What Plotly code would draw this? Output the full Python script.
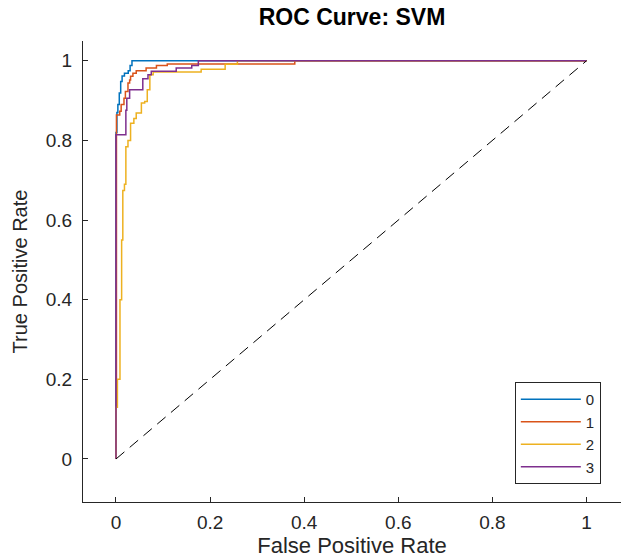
import plotly.graph_objects as go

# ROC step-curve vertices (FPR, TPR); drawn with horizontal-then-vertical steps
class_names = ["0", "1", "2", "3"]

fpr_0 = [0, 0, 0.002, 0.004, 0.007, 0.010, 0.013, 0.018, 0.026, 0.030, 0.034, 1]
tpr_0 = [0, 0.82, 0.87, 0.89, 0.919, 0.948, 0.962, 0.969, 0.975, 0.988, 1.0, 1.0]

fpr_1 = [0, 0, 0.001, 0.001, 0.008, 0.011, 0.017, 0.020, 0.0255, 0.029, 0.031, 0.036,
         0.043, 0.064, 0.086, 0.109, 0.38, 1]
tpr_1 = [0, 0.13, 0.13, 0.864, 0.873, 0.89, 0.906, 0.923, 0.944, 0.952, 0.961, 0.969,
         0.975, 0.982, 0.988, 0.992, 1.0, 1.0]

fpr_2 = [0, 0, 0.003, 0.0085, 0.012, 0.0145, 0.018, 0.021, 0.0255, 0.031, 0.038, 0.043,
         0.054, 0.061, 0.0665, 0.072, 0.079, 0.181, 0.232, 0.258, 1]
tpr_2 = [0, 0.13, 0.20, 0.40, 0.55, 0.674, 0.69, 0.784, 0.80, 0.843, 0.855, 0.869,
         0.894, 0.898, 0.927, 0.965, 0.972, 0.979, 0.991, 1.0, 1.0]

fpr_3 = [0, 0, 0.021, 0.023, 0.029, 0.057, 0.068, 0.075, 0.128, 0.161, 0.175, 1]
tpr_3 = [0, 0.814, 0.876, 0.906, 0.927, 0.955, 0.965, 0.974, 0.982, 0.988, 1.0, 1.0]

chance_x = [0, 1]
chance_y = [0, 1]

tick_vals = [0, 0.2, 0.4, 0.6, 0.8, 1]
tick_text = ["0", "0.2", "0.4", "0.6", "0.8", "1"]

colors = ["#0072BD", "#D95319", "#EDB120", "#7E2F8E"]
series = [(fpr_0, tpr_0), (fpr_1, tpr_1), (fpr_2, tpr_2), (fpr_3, tpr_3)]

FONT = "Liberation Sans, Arial, Helvetica, sans-serif"
INK = "#262626"

fig = go.Figure()
for name, (fx, ty), c in zip(class_names, series, colors):
    fig.add_trace(go.Scatter(x=fx, y=ty, mode="lines", name=name,
                             line=dict(color=c, width=1.5, shape="hv")))
fig.add_trace(go.Scatter(x=chance_x, y=chance_y, mode="lines", showlegend=False,
                         line=dict(color="black", width=1, dash="11px,7px")))

fig.update_layout(
    width=622, height=558,
    margin=dict(l=83, r=1, t=41, b=56, autoexpand=False),
    paper_bgcolor="white", plot_bgcolor="white",
    font=dict(family=FONT, color=INK, size=19),
    title=dict(text="<b>ROC Curve: SVM</b>", x=0.5, xref="paper", xanchor="center",
               y=1 - 17 / 558, yanchor="middle", yref="container",
               font=dict(size=23, color="black", family=FONT)),
    showlegend=True,
    legend=dict(x=0.9625, y=0.039, xanchor="right", yanchor="bottom",
                bgcolor="white", bordercolor=INK, borderwidth=1,
                font=dict(size=15, color=INK, family=FONT), itemwidth=60,
                traceorder="normal"),
)
fig.update_xaxes(range=[-0.0701, 1.0733], tickvals=tick_vals, ticktext=tick_text,
                 showgrid=False, zeroline=False, showline=True, linecolor=INK, linewidth=1,
                 ticks="inside", ticklen=5, tickcolor=INK, ticklabelstandoff=3,
                 automargin=False,
                 title=dict(text="False Positive Rate", font=dict(size=22), standoff=9))
fig.update_yaxes(range=[-0.108, 1.0497], tickvals=tick_vals, ticktext=tick_text,
                 showgrid=False, zeroline=False, showline=True, linecolor=INK, linewidth=1,
                 ticks="inside", ticklen=5, tickcolor=INK, ticklabelstandoff=6,
                 automargin=False,
                 title=dict(text="True Positive Rate", font=dict(size=20), standoff=12))

fig.write_html("out.html", config={"displayModeBar": False},
               post_script="document.body.style.margin='0';document.body.style.overflow='hidden';")
